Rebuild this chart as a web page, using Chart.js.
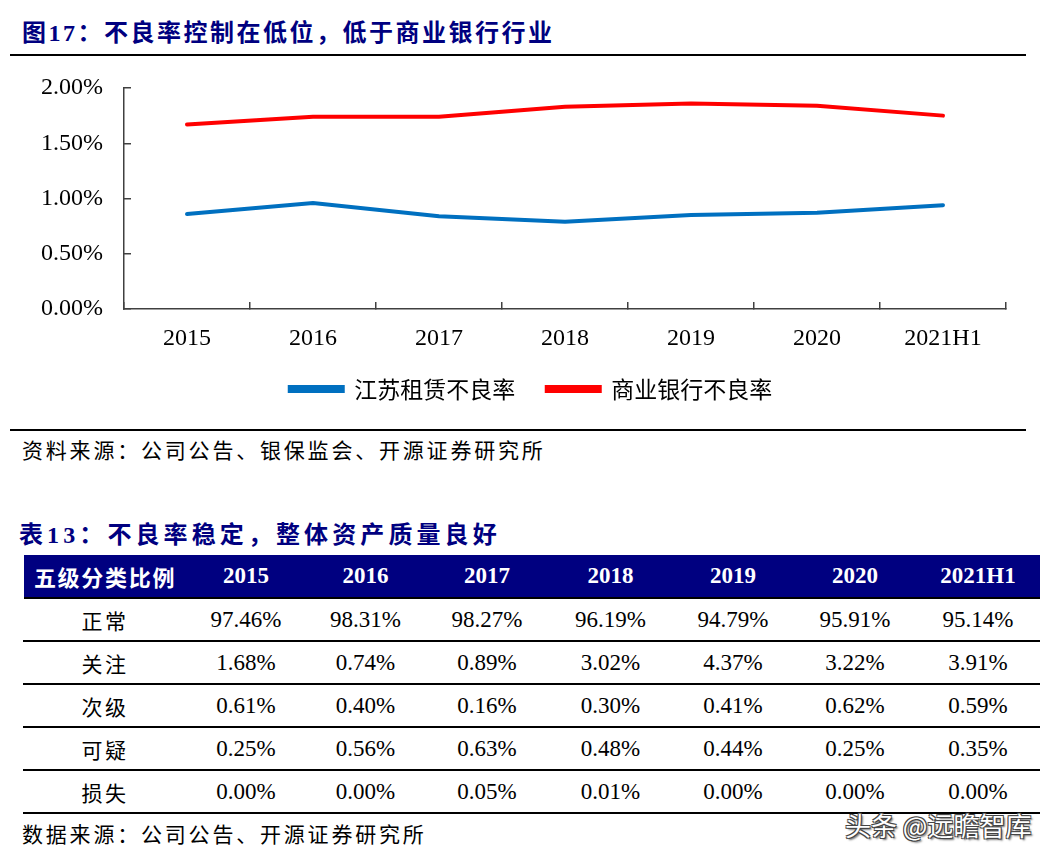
<!DOCTYPE html>
<html><head><meta charset="utf-8">
<script src="https://cdn.jsdelivr.net/npm/chart.js@4.4.0/dist/chart.umd.min.js"></script>
<style>
html,body{margin:0;padding:0;background:#fff;}
body{width:1062px;height:859px;position:relative;overflow:hidden;font-family:"Liberation Serif","Noto Sans CJK SC",serif;}
.abs{position:absolute;}
.title{color:#000080;font-weight:bold;font-size:24px;letter-spacing:2.5px;line-height:30px;white-space:nowrap;}
.rule{background:#000;}
.src{font-family:"Liberation Serif","Noto Sans CJK SC";font-size:21px;letter-spacing:2.8px;line-height:26px;color:#000;white-space:nowrap;}
.row{position:absolute;display:flex;align-items:center;}
.cell{text-align:center;white-space:nowrap;}
.hd{background:#000080;color:#fff;font-weight:bold;}
.hd .cell{font-size:23px;}
.hd .cell.lab{font-size:22px;letter-spacing:1.7px;}
.dr .cell{font-size:23px;color:#000;}
.dr .cell.lab{font-size:21px;letter-spacing:2.5px;}
.wm{font-family:"Noto Sans CJK SC";font-size:26px;color:#fff;white-space:nowrap;line-height:30px;
 text-shadow:1px 1px 0 #444,-1px -1px 0 #444,1px -1px 0 #444,-1px 1px 0 #444,2px 2px 2px #666;}
</style></head><body>
<div class="abs title" style="left:22px;top:18px">图17：不良率控制在低位，低于商业银行行业</div>
<div class="abs rule" style="left:10px;top:54px;width:1016px;height:2px"></div>
<div class="abs" style="left:0;top:60px;width:1062px;height:370px"><canvas id="c"></canvas></div>
<div class="abs rule" style="left:10px;top:429px;width:1016px;height:2px"></div>
<div class="abs src" style="left:22px;top:438px">资料来源：公司公告、银保监会、开源证券研究所</div>
<div class="abs title" style="left:19px;top:520px;letter-spacing:4.1px">表13：不良率稳定，整体资产质量良好</div>
<div id="tbl"></div>
<div class="abs src" style="left:22px;top:822px">数据来源：公司公告、开源证券研究所</div>
<div class="abs wm" style="left:845px;top:810px">头条 @远瞻智库</div>
<script>
// ---- chart data ----
const categories = ['2015','2016','2017','2018','2019','2020','2021H1'];
const jiangsuNPL = [0.86, 0.96, 0.84, 0.79, 0.85, 0.87, 0.94];
const bankNPL = [1.67, 1.74, 1.74, 1.83, 1.86, 1.84, 1.75];
const seriesNames = ['江苏租赁不良率', '商业银行不良率'];
const yMin = 0, yMax = 2, yStep = 0.5;

// ---- table data ----
const tableHeadLabel = '五级分类比例';
const rowLabels = ['正常','关注','次级','可疑','损失'];
const rowNormal = ['97.46%','98.31%','98.27%','96.19%','94.79%','95.91%','95.14%'];
const rowSpecial = ['1.68%','0.74%','0.89%','3.02%','4.37%','3.22%','3.91%'];
const rowSubstandard = ['0.61%','0.40%','0.16%','0.30%','0.41%','0.62%','0.59%'];
const rowDoubtful = ['0.25%','0.56%','0.63%','0.48%','0.44%','0.25%','0.35%'];
const rowLoss = ['0.00%','0.00%','0.05%','0.01%','0.00%','0.00%','0.00%'];

// ---- build table ----
const colW = [162,120,119,124,123,122,122,124];
const tbl = document.getElementById('tbl');
function makeRow(cls, top, height, cells, left) {
  const r = document.createElement('div');
  r.className = 'row ' + cls;
  r.style.left = left + 'px'; r.style.top = top + 'px';
  r.style.width = '1016px'; r.style.height = height + 'px';
  cells.forEach((t, i) => {
    const c = document.createElement('div');
    c.className = 'cell' + (i === 0 ? ' lab' : '');
    c.style.width = colW[i] + 'px';
    c.textContent = t;
    r.appendChild(c);
  });
  tbl.appendChild(r);
}
function rule(top, left, width) {
  const d = document.createElement('div');
  d.className = 'abs rule';
  d.style.cssText = 'left:' + left + 'px;top:' + top + 'px;width:' + width + 'px;height:2px';
  tbl.appendChild(d);
}
makeRow('hd', 555, 42, [tableHeadLabel].concat(categories), 24);
rule(597, 24, 1016);
const dataRows = [rowNormal, rowSpecial, rowSubstandard, rowDoubtful, rowLoss];
dataRows.forEach((vals, i) => {
  makeRow('dr', 599 + 43 * i, 41, [rowLabels[i]].concat(vals), 24);
  rule(640 + 43 * i, 23, 1017);
});

// ---- chart ----
Chart.defaults.font.family = "'Liberation Serif','Noto Sans CJK SC'";
Chart.defaults.color = '#000';
const axisColor = '#404040';
new Chart(document.getElementById('c'), {
  type: 'line',
  data: {
    labels: categories,
    datasets: [
      { label: seriesNames[0], data: jiangsuNPL, borderColor: '#0070C0', backgroundColor: '#0070C0',
        borderWidth: 4, pointRadius: 0, tension: 0, borderCapStyle: 'round' },
      { label: seriesNames[1], data: bankNPL, borderColor: '#FF0000', backgroundColor: '#FF0000',
        borderWidth: 4, pointRadius: 0, tension: 0, borderCapStyle: 'round' }
    ]
  },
  options: {
    responsive: true, maintainAspectRatio: false, animation: false,
    layout: { padding: { top: 28, right: 0, left: 0, bottom: 19.5 } },
    plugins: {
      tooltip: { enabled: false },
      legend: {
        position: 'bottom',
        labels: { boxWidth: 53, boxHeight: 4, padding: 31.5, color: '#000',
          font: { family: "'Noto Sans CJK SC'", size: 23 } }
      }
    },
    scales: {
      x: {
        offset: true,
        grid: { offset: true, drawOnChartArea: false, tickLength: -7, color: axisColor, lineWidth: 1.5 },
        border: { color: axisColor, width: 1.5 },
        ticks: { padding: 22, font: { size: 24 }, color: '#000', maxRotation: 0, autoSkip: false },
        afterFit: s => { s.height = 37; }
      },
      y: {
        min: yMin, max: yMax,
        grid: { drawOnChartArea: false, tickLength: -7, color: axisColor, lineWidth: 1.5 },
        border: { color: axisColor, width: 1.5 },
        ticks: { stepSize: yStep, padding: 28, font: { size: 24 }, color: '#000',
          callback: v => Number(v).toFixed(2) + '%' },
        afterFit: s => { s.width = 124; s.paddingTop = 0; s.paddingBottom = 0; }
      },
      spacer: {
        position: 'right', display: true,
        grid: { display: false }, border: { display: false },
        ticks: { display: false },
        afterFit: s => { s.width = 56; s.paddingTop = 0; s.paddingBottom = 0; }
      }
    }
  }
});
</script>
</body></html>
